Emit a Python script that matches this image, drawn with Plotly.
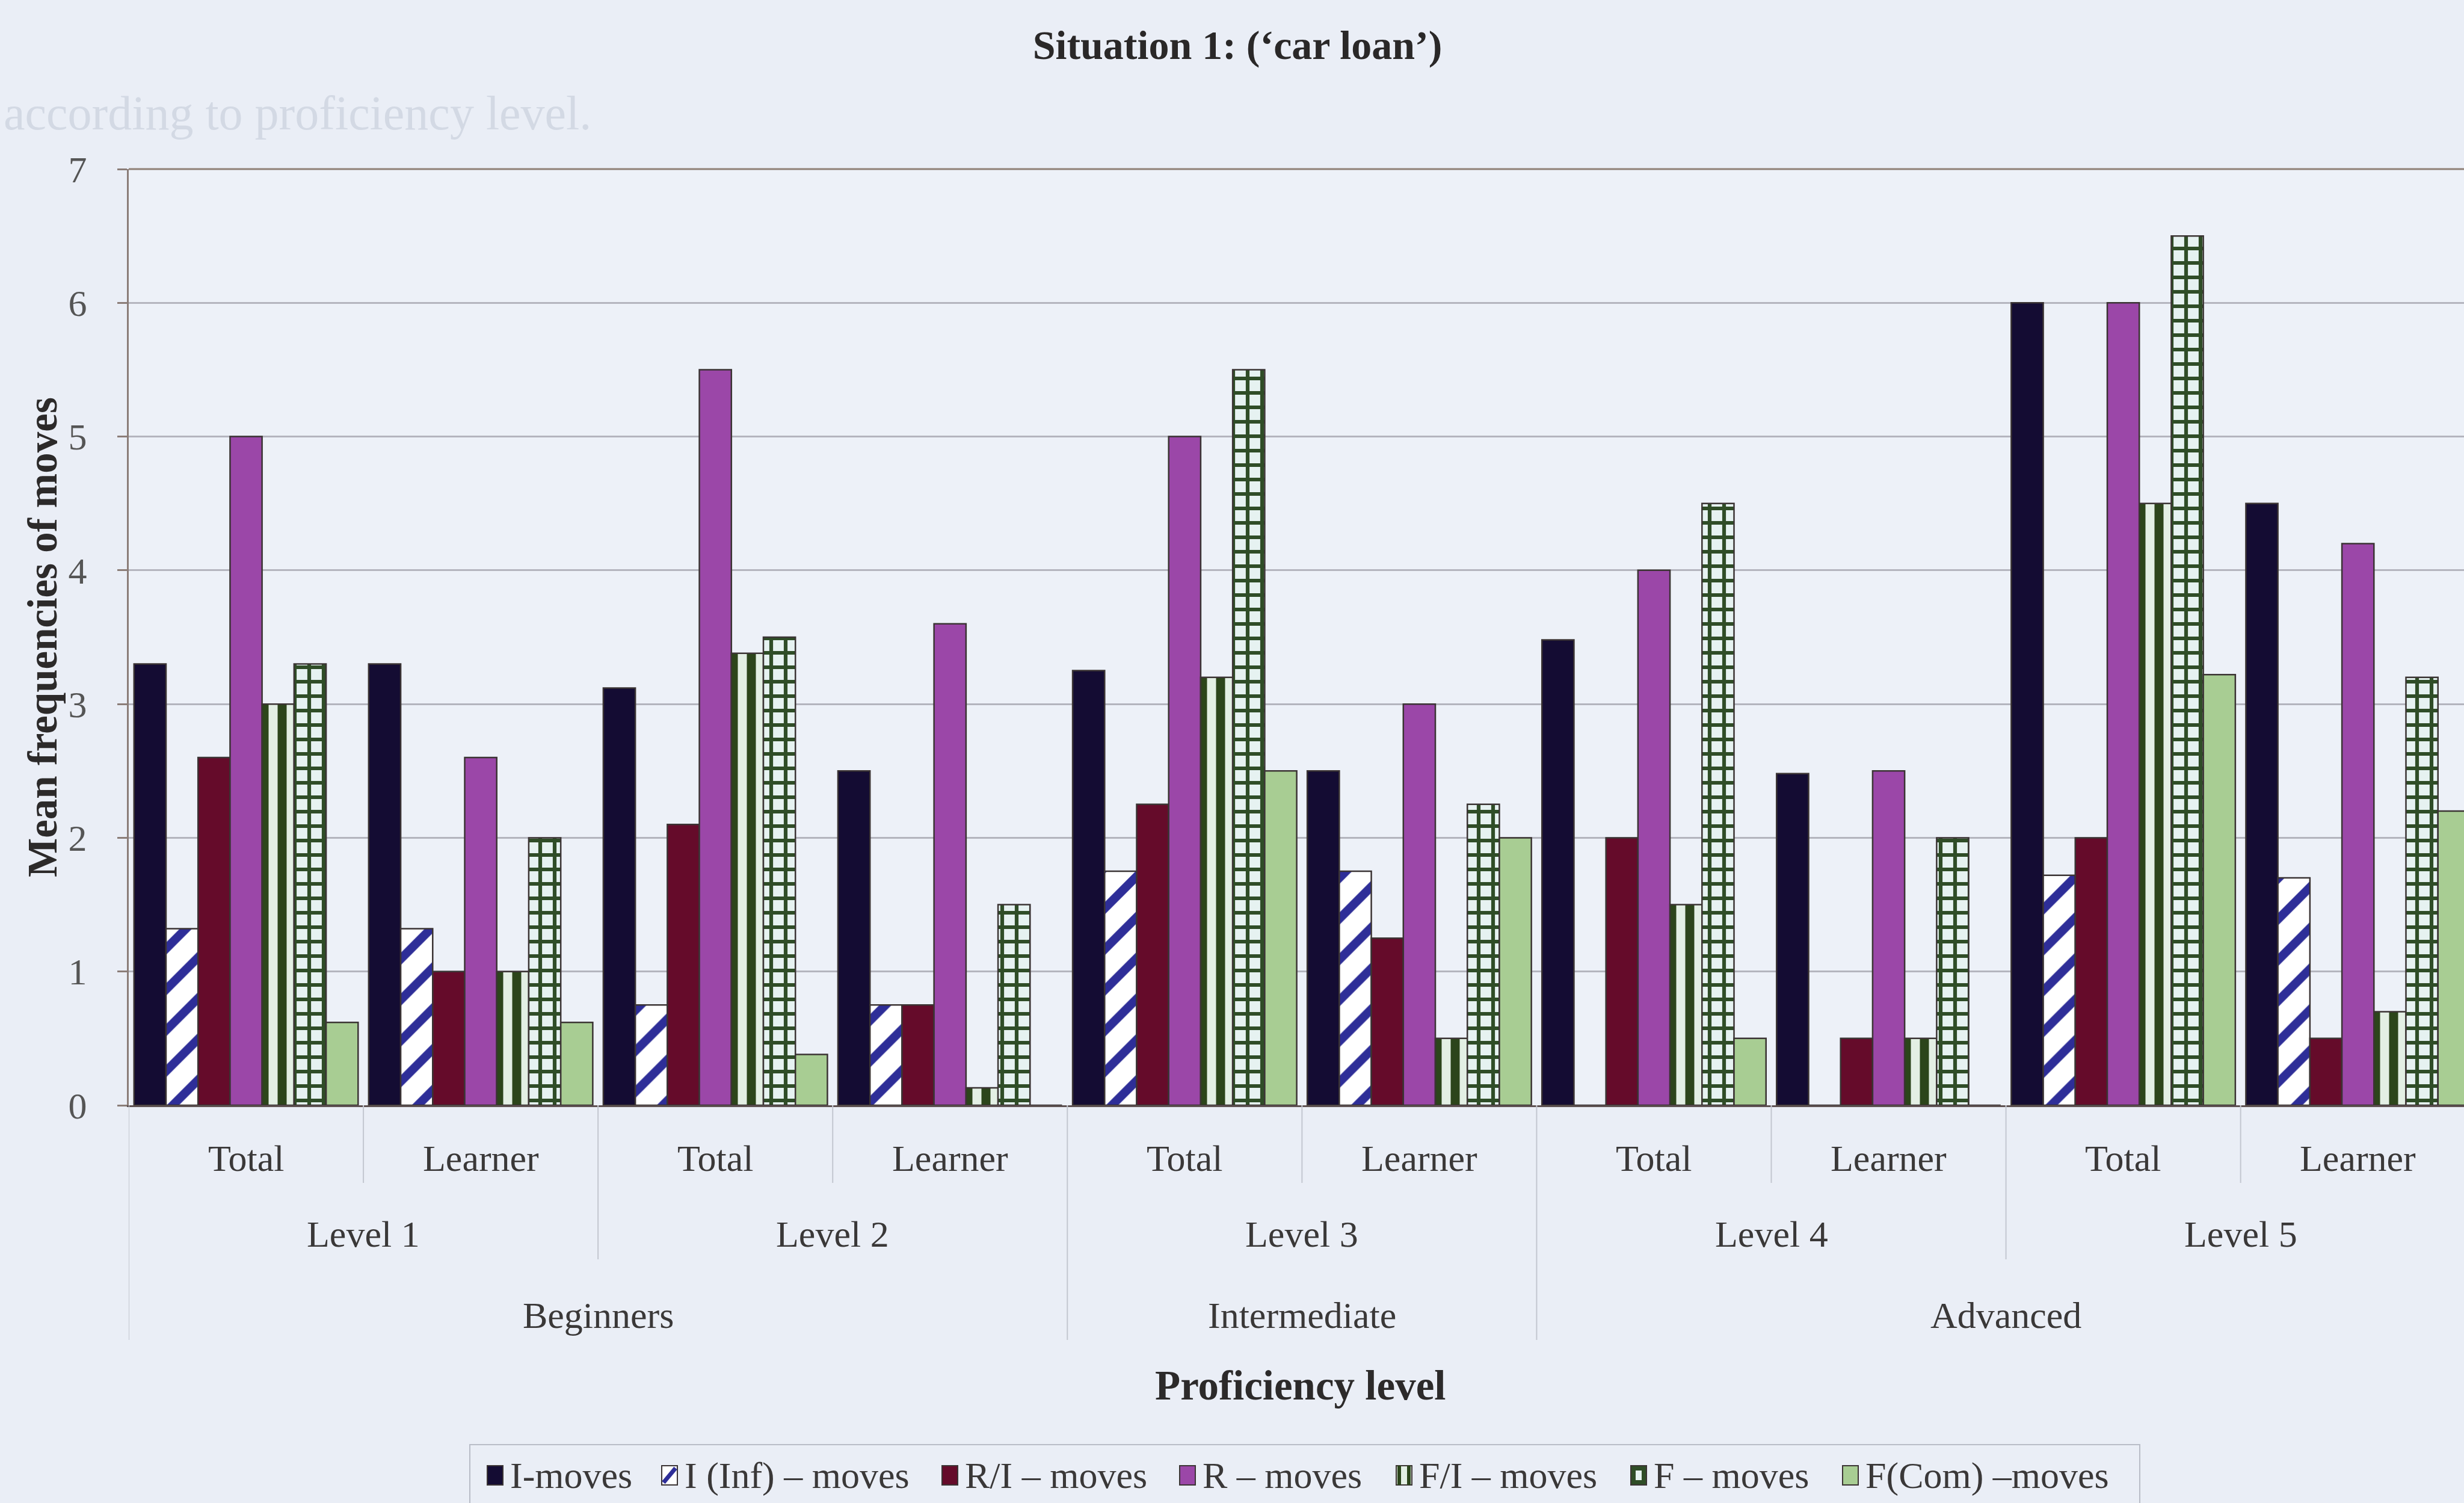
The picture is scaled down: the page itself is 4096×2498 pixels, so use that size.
import plotly.graph_objects as go

# ---- data -------------------------------------------------------------
levels = ["Level 1", "Level 2", "Level 3", "Level 4", "Level 5"]
subgroups = ["Total", "Learner"]
bands = ["Beginners", "Intermediate", "Advanced"]
band_levels = [2, 1, 2]          # number of levels in each proficiency band

categories = [f"{lv} {sg}" for lv in levels for sg in subgroups]

series_names = ["I-moves", "I (Inf) \u2013 moves", "R/I \u2013 moves", "R \u2013 moves",
                "F/I \u2013 moves", "F \u2013 moves", "F(Com) \u2013moves"]

i_moves = [3.3, 3.3, 3.12, 2.5, 3.25, 2.5, 3.48, 2.48, 6.0, 4.5]
i_inf   = [1.32, 1.32, 0.75, 0.75, 1.75, 1.75, 0.0, 0.0, 1.72, 1.7]
r_i     = [2.6, 1.0, 2.1, 0.75, 2.25, 1.25, 2.0, 0.5, 2.0, 0.5]
r_moves = [5.0, 2.6, 5.5, 3.6, 5.0, 3.0, 4.0, 2.5, 6.0, 4.2]
f_i     = [3.0, 1.0, 3.38, 0.13, 3.2, 0.5, 1.5, 0.5, 4.5, 0.7]
f_moves = [3.3, 2.0, 3.5, 1.5, 5.5, 2.25, 4.5, 2.0, 6.5, 3.2]
f_com   = [0.62, 0.62, 0.38, 0.0, 2.5, 2.0, 0.5, 0.0, 3.22, 2.2]

series_values = [i_moves, i_inf, r_i, r_moves, f_i, f_moves, f_com]

y_ticks = [0, 1, 2, 3, 4, 5, 6, 7]

# ---- page geometry (pixels) -------------------------------------------
W, H = 4096, 2498
PL, PR_ = 214, W          # plot area left / right edge
PT, PB = 281, 1837        # plot area top / bottom edge

def X(px):
    return (px - PL) / (PR_ - PL)

def Y(py):
    return (PB - py) / (PB - PT)

SERIF = "Liberation Serif"
TXT = "#3a3838"
EDGE = "#3b3434"

styles = [
    dict(color="#140c33"),
    dict(color="#ffffff", pattern=dict(shape="/", fgcolor="#2e2e98", bgcolor="#ffffff",
                                       size=48, solidity=0.3, fillmode="replace")),
    dict(color="#650b2a"),
    dict(color="#9b47a8"),
    dict(color="#e3efe4", pattern=dict(shape="|", fgcolor="#2c451b", bgcolor="#e3efe4",
                                       size=30, solidity=0.5, fillmode="replace")),
    dict(color="#e6f2f1", pattern=dict(shape="+", fgcolor="#2f4d27", bgcolor="#e6f2f1",
                                       size=24, solidity=0.45, fillmode="replace")),
    dict(color="#a8cd93"),
]

fig = go.Figure()
for name, vals, st in zip(series_names, series_values, styles):
    fig.add_trace(go.Bar(
        x=categories, y=vals, name=name,
        marker=dict(line=dict(color=EDGE, width=2.5), **st),
        showlegend=False,
    ))

shapes = []
annotations = []

def label(x, xref, py, text, size=62, color=TXT, **kw):
    annotations.append(dict(x=x, xref=xref, y=Y(py), yref="paper", text=text,
                            showarrow=False, xanchor=kw.pop("xanchor", "center"),
                            yanchor="middle",
                            font=dict(family=SERIF, size=size, color=color), **kw))

# category labels (Total / Learner)
for cat in categories:
    label(cat, "x", 1925, cat.split(" ")[-1])

# level labels
for k, lv in enumerate(levels):
    label(2 * k + 0.5, "x", 2051, lv)

# proficiency band labels
start = 0
band_edges = [0]
for b, n in zip(bands, band_levels):
    ncat = 2 * n
    label(start + ncat / 2 - 0.5, "x", 2186, b)
    start += ncat
    band_edges.append(start)

# divider lines below the axis
DIV = "#c3c7d0"
for i in range(len(categories) + 1):
    edge = i - 0.5
    if i in band_edges:
        bottom = 2227
    elif i % 2 == 0:
        bottom = 2093
    else:
        bottom = 1966
    shapes.append(dict(type="line", xref="x", yref="paper", x0=edge, x1=edge,
                       y0=0, y1=Y(bottom), line=dict(color=DIV, width=2)))

# top frame line of the plot area
shapes.append(dict(type="line", xref="paper", yref="paper", x0=0, x1=1, y0=1, y1=1,
                   line=dict(color="#8f8076", width=3)))

# axis titles
label(X(2161), "paper", 2303, "<b>Proficiency level</b>", size=69, color="#2c2a2a")
annotations.append(dict(x=X(71), xref="paper", y=0.5, yref="paper",
                        xanchor="center", yanchor="middle",
                        text="<b>Mean frequencies of moves</b>", textangle=-90,
                        showarrow=False,
                        font=dict(family=SERIF, size=69, color="#2c2a2a")))

# faint text showing through from the page behind
label(X(4), "paper", 188, "according to proficiency level.", size=80,
      color="#d3d9e4", xanchor="left")

# ---- legend (drawn by hand so the swatches match the bar size) --------
shapes.append(dict(type="rect", xref="paper", yref="paper",
                   x0=X(781), x1=X(3557), y0=Y(2401), y1=Y(2530),
                   line=dict(color="#b9bdc7", width=2), fillcolor="rgba(0,0,0,0)"))
legend_swatch_x = [823, 1113, 1579, 1974, 2334, 2724, 3076]
LY, SW, SH = 2452, 26, 32
for name, sx, st in zip(series_names, legend_swatch_x, styles):
    x0, x1 = X(sx - SW / 2), X(sx + SW / 2)
    y0, y1 = Y(LY + SH / 2), Y(LY - SH / 2)
    base = st.get("pattern", {}).get("bgcolor", st["color"])
    shapes.append(dict(type="rect", xref="paper", yref="paper", x0=x0, x1=x1, y0=y0, y1=y1,
                       fillcolor=base, line=dict(color=EDGE, width=2)))
    pat = st.get("pattern")
    if pat and pat["shape"] == "/":
        shapes.append(dict(type="line", xref="paper", yref="paper",
                           x0=X(sx - SW / 2 + 3), y0=Y(LY + SH / 2 - 4),
                           x1=X(sx + SW / 2 - 3), y1=Y(LY - SH / 2 + 4),
                           line=dict(color=pat["fgcolor"], width=7)))
    elif pat and pat["shape"] == "|":
        for dx in (-SW / 2 + 5, SW / 2 - 5):
            shapes.append(dict(type="line", xref="paper", yref="paper",
                               x0=X(sx + dx), x1=X(sx + dx), y0=y0, y1=y1,
                               line=dict(color=pat["fgcolor"], width=6)))
    elif pat and pat["shape"] == "+":
        shapes.append(dict(type="rect", xref="paper", yref="paper", x0=x0, x1=x1, y0=y0, y1=y1,
                           fillcolor=pat["fgcolor"], line=dict(color=EDGE, width=2)))
        shapes.append(dict(type="rect", xref="paper", yref="paper",
                           x0=X(sx - 5), x1=X(sx + 5), y0=Y(LY + 8), y1=Y(LY - 8),
                           fillcolor=pat["bgcolor"], line=dict(width=0)))
    label(X(sx + SW / 2 + 10), "paper", LY, name, size=62, xanchor="left")

fig.update_layout(
    width=W, height=H, autosize=False,
    margin=dict(l=PL, r=0, t=PT, b=H - PB, pad=0),
    paper_bgcolor="#eaeef6",
    plot_bgcolor="#edf1f8",
    barmode="group", bargap=0.045, bargroupgap=0,
    title=dict(text="<b>Situation 1: (\u2018car loan\u2019)</b>", x=2057 / W, xanchor="center",
               y=1 - 74 / H, yanchor="middle",
               font=dict(family=SERIF, size=68, color="#2a2828")),
    xaxis=dict(type="category", categoryorder="array", categoryarray=categories,
               range=[-0.5, 9.452], showticklabels=False, ticks="", showgrid=False,
               zeroline=False, showline=True, linecolor="#5e5252", linewidth=3,
               fixedrange=True),
    yaxis=dict(range=[0, 7], tickvals=y_ticks, showgrid=True, gridcolor="#b4b5be",
               gridwidth=2.5, zeroline=False, showline=True, linecolor="#8b7d78",
               linewidth=3, ticks="outside", ticklen=16, tickwidth=2.5,
               tickcolor="#8b7d78", ticklabelstandoff=38,
               tickfont=dict(family=SERIF, size=62, color="#555"), fixedrange=True),
    shapes=shapes,
    annotations=annotations,
)

fig.write_html("out.html")
